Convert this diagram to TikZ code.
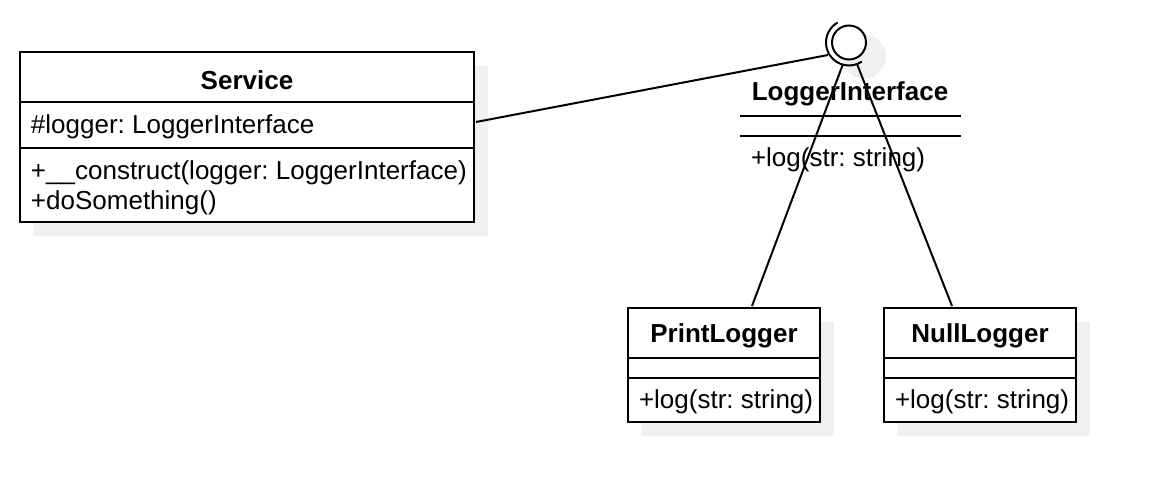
\documentclass[tikz,border=0pt]{standalone}
\usepackage{fontspec}
\setmainfont{Liberation Sans}
\frenchspacing
\begin{document}
\begin{tikzpicture}[x=0.5pt,y=-0.5pt,
  line width=1pt,
  txt/.style={inner sep=0pt,font=\fontsize{13}{15.6}\selectfont},
  bold/.style={txt,font=\fontsize{13}{15.6}\selectfont\bfseries},
  umlbox/.style={draw,fill=white,inner sep=0pt,outer sep=0pt,anchor=north west},
  conn/.style={draw=black,line width=1pt}]
\useasboundingbox (0,0) rectangle (1156,502);
% shadows
\fill[black!6] (34,66) rectangle (488,236);
\fill[black!6] (642,322) rectangle (834,436);
\fill[black!6] (898,322) rectangle (1090,436);
\fill[black!6] (864,56.5) circle[radius=22];
% Service
\node[umlbox,minimum width=227pt,minimum height=85pt] (svc) at (20,52) {};
\draw (20,102) -- (474,102);
\draw (20,148) -- (474,148);
\node[bold] (svcname) at (247,80) {Service};
\node[txt,anchor=west] (svcattr) at (30,127) {\#logger: LoggerInterface};
\node[txt,anchor=west] (svcm1) at (30,173) {+\_\_construct(logger: LoggerInterface)};
\node[txt,anchor=west] (svcm2) at (30,203) {+doSomething()};
% Interface
\node[bold] (ifname) at (850,94) {LoggerInterface};
\draw (740,116) -- (961,116);
\draw (740,136) -- (961,136);
\node[txt,anchor=west] (ifm) at (750,160) {+log(str: string)};
% lollipop
\node[circle,draw,fill=white,minimum size=17pt,inner sep=0pt] (lolli) at (849,42.5) {};
\draw (849,42.5) ++(56:23) arc[start angle=56,end angle=240,radius=23];
% PrintLogger
\node[umlbox,minimum width=96pt,minimum height=57pt] (pl) at (628,308) {};
\draw (628,358) -- (820,358);
\draw (628,378) -- (820,378);
\node[bold] (plname) at (724,336) {PrintLogger};
\node[txt,anchor=west] (plm) at (638,402) {+log(str: string)};
% NullLogger
\node[umlbox,minimum width=96pt,minimum height=57pt] (nl) at (884,308) {};
\draw (884,358) -- (1076,358);
\draw (884,378) -- (1076,378);
\node[bold] (nlname) at (980,336) {NullLogger};
\node[txt,anchor=west] (nlm) at (894,402) {+log(str: string)};
% connectors
\coordinate (sA) at (476,122);
\coordinate (lA) at (828,55);
\coordinate (lB) at (843,64);
\coordinate (lC) at (857,64);
\coordinate (pA) at (752,306);
\coordinate (nA) at (952,306);
\draw[conn] (sA) -- (lA);
\draw[conn] (lB) -- (pA);
\draw[conn] (lC) -- (nA);
\end{tikzpicture}
\end{document}
